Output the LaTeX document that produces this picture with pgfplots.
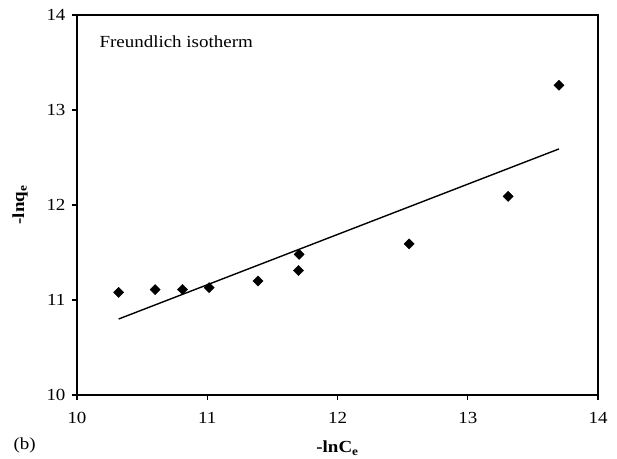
\documentclass[border=0pt]{standalone}
\usepackage{pgfplots}
\pgfplotsset{compat=1.18}
\usepackage{fontspec}
\setmainfont{Liberation Serif}[FakeStretch=1.12]

\begin{document}
\begin{tikzpicture}
\begin{axis}[
  scale only axis,
  width=521bp, height=380bp,
  xmin=10, xmax=14, ymin=10, ymax=14,
  xtick={10,11,12,13,14}, ytick={10,11,12,13,14},
  xtick pos=bottom, ytick pos=left,
  tick align=outside,
  major tick length=5bp,
  axis line style={line width=1.3bp},
  tick style={line width=1.1bp, black},
  tick label style={font=\fontsize{17}{20}\selectfont},
  xticklabel style={yshift=-9bp},
  yticklabel style={xshift=-3bp},
  /pgf/number format/assume math mode=true,
  xlabel={\textbf{-lnC\textsubscript{e}}},
  ylabel={\textbf{-lnq\textsubscript{e}}},
  label style={font=\fontsize{17}{20}\selectfont},
  xlabel style={yshift=-10bp},
  ylabel style={yshift=12bp},
  clip=false,
]
% measured points
\addplot[only marks, mark=square*, mark size=3.6bp,
         mark options={rotate=45, fill=black, draw=black}]
  coordinates {
    (10.32,11.08) (10.60,11.11) (10.81,11.11) (11.015,11.13)
    (11.39,11.20) (11.70,11.31) (11.705,11.48) (12.55,11.59)
    (13.31,12.09) (13.70,13.26)
  };
% linear fit
\addplot[black, line width=1.4bp] coordinates {(10.32,10.80) (13.70,12.59)};

\node[anchor=west, font=\fontsize{17}{20}\selectfont]
  at ([xshift=19bp,yshift=-27bp]rel axis cs:0,1) {Freundlich isotherm};
\node[anchor=west, font=\fontsize{17}{20}\selectfont]
  at ([xshift=-67bp,yshift=-50bp]rel axis cs:0,0) {(b)};
\coordinate (ll) at (rel axis cs:0,0);
\coordinate (ur) at (rel axis cs:1,1);
\end{axis}
\path ([xshift=-77bp,yshift=-60bp]ll) rectangle ([xshift=19bp,yshift=15bp]ur);
\end{tikzpicture}
\end{document}
